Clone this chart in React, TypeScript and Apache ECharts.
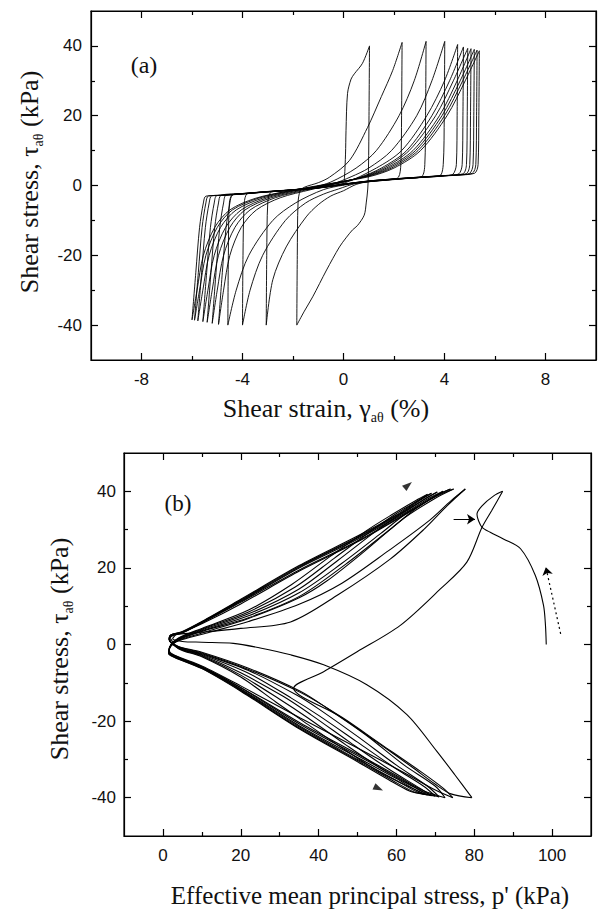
import React, { useEffect, useRef } from "react";
import * as echarts from "echarts";

// ---------- Panel (a): shear stress vs shear strain ----------
const aXMajor = [-8, -4, 0, 4, 8];
const aXMinor = [-6, -2, 2, 6];
const aYMajor = [-40, -20, 0, 20, 40];
const aYMinor = [-30, -10, 10, 30];

const aCycle1 = [[0,0],[0.04,2.4],[0.08,9],[0.1,15.8],[0.16,26.4],[0.3,30.5],[0.43,32],[0.75,35],[1.03,40],[1.01,20],[0.99,5],[0.96,-1],[0.9,-5],[0.82,-8.5],[0.55,-11.5],[0.36,-12.7],[0.1,-15],[-0.16,-17.6],[-0.67,-24.2],[-1.22,-31.9],[-1.55,-36],[-1.85,-40]];
const aCycle2 = [[-1.85,-40],[-1.83,-20],[-1.8,-5],[-1.72,-1.6],[-1.55,-0.5],[-1.0,0.8],[-0.55,2.4],[0.24,7.2],[0.95,16.6],[1.5,25.5],[1.95,33],[2.32,41],[2.3,20],[2.27,6],[2.18,2.4],[1.9,1.7],[1.0,1.1],[0.5,0.3],[0,-1.5],[-0.5,-3],[-1.0,-5.5],[-1.48,-9],[-2.27,-17.6],[-2.8,-27],[-3.06,-40]];
const aCycle3 = [[-3.06,-40],[-3.04,-20],[-3.0,-5],[-2.9,-2.1],[-2.6,-1.6],[-2.0,-1.2],[-1.2,-0.5],[-0.5,1.0],[0.5,5],[1.3,10],[2.2,20],[2.8,30],[3.27,41.3],[3.25,20],[3.22,6],[3.1,2.6],[2.5,2.0],[1.5,1.4],[0.5,0.6],[-0.2,-1],[-0.8,-2.5],[-1.5,-5],[-2.3,-10],[-3.2,-20],[-3.7,-30],[-4.0,-40]];
const aCycle4 = [[-4.0,-40],[-3.98,-20],[-3.93,-5],[-3.82,-2.4],[-3.4,-2.0],[-2.5,-1.5],[-1.5,-0.9],[-0.5,0.3],[0.3,2.5],[1.0,5],[1.9,10],[2.9,20],[3.5,30],[4.01,41.3],[3.99,20],[3.95,6],[3.82,2.8],[3.3,2.4],[2.0,1.8],[1.0,1.1],[0,0.1],[-0.8,-1.2],[-1.9,-5],[-2.8,-10],[-3.75,-20],[-4.25,-30],[-4.58,-40]];
const aCycle5 = [[-4.58,-40],[-4.56,-20],[-4.52,-5],[-4.4,-2.7],[-4.0,-2.3],[-3.0,-1.8],[-2.0,-1.3],[-1.0,-0.6],[0,0.6],[1.3,5],[2.3,10],[3.3,20],[4.0,30],[4.52,40.4],[4.5,20],[4.47,6],[4.33,3.2],[4.0,2.8],[3.0,2.35],[2.0,1.85],[1.0,1.25],[0,0.35],[-1.0,-0.65],[-2.0,-1.25],[-3.0,-1.75],[-4.0,-2.35],[-4.4,-2.7],[-4.5,-5],[-4.65,-12],[-4.8,-25],[-4.95,-39.8]];
const aCycle6 = [[-4.95,-39.8],[-4.75,-30],[-4.5,-20],[-4.05,-12],[-3.45,-7],[-2.5,-3.5],[-1.3,-1.2],[-0.3,0.5],[0.6,2.2],[1.5,5],[2.5,10],[3.5,20],[4.2,30],[4.75,39.7],[4.73,20],[4.7,6],[4.56,3.3],[4.0,2.75],[3.0,2.3],[2.0,1.8],[1.0,1.15],[0,0.25],[-1.0,-0.7],[-2.0,-1.3],[-3.0,-1.8],[-4.0,-2.4],[-4.65,-2.75],[-4.75,-5],[-4.9,-12],[-5.05,-25],[-5.2,-39.5]];
const aCycle7 = [[-5.2,-39.5],[-5.0,-30],[-4.75,-20],[-4.3,-12],[-3.7,-7],[-2.7,-3.5],[-1.5,-1.3],[-0.5,0.3],[0.7,2.4],[1.6,5],[2.6,10],[3.65,20],[4.35,30],[4.92,39.3],[4.9,20],[4.87,6],[4.73,3.35],[4.0,2.85],[3.0,2.4],[2.0,1.9],[1.0,1.3],[0,0.4],[-1.0,-0.6],[-2.0,-1.2],[-3.0,-1.7],[-4.0,-2.3],[-4.85,-2.8],[-4.95,-5],[-5.1,-12],[-5.25,-25],[-5.4,-39.2]];
const aCycle8 = [[-5.4,-39.2],[-5.2,-30],[-4.95,-20],[-4.5,-12],[-3.9,-7],[-2.9,-3.6],[-1.7,-1.4],[-0.6,0.2],[0.8,2.5],[1.7,5],[2.75,10],[3.8,20],[4.5,30],[5.05,39.2],[5.03,20],[5.0,6],[4.86,3.4],[4.0,2.8],[3.0,2.3],[2.0,1.75],[1.0,1.2],[0,0.3],[-1.0,-0.75],[-2.0,-1.35],[-3.0,-1.85],[-4.0,-2.45],[-4.5,-2.7],[-5.02,-2.9],[-5.12,-5],[-5.27,-12],[-5.42,-25],[-5.57,-39]];
const aCycle9 = [[-5.57,-39],[-5.37,-30],[-5.12,-20],[-4.67,-12],[-4.05,-7],[-3.05,-3.6],[-1.85,-1.4],[-0.7,0.2],[0.9,2.6],[1.8,5],[2.85,10],[3.9,20],[4.62,30],[5.18,39],[5.16,20],[5.13,6],[4.99,3.45],[4.5,3.0],[4.0,2.8],[3.0,2.35],[2.0,1.85],[1.0,1.25],[0,0.35],[-1.0,-0.7],[-2.0,-1.3],[-3.0,-1.8],[-4.0,-2.4],[-4.7,-2.75],[-5.22,-2.95],[-5.32,-5],[-5.47,-12],[-5.62,-25],[-5.77,-38.8]];
const aCycle10 = [[-5.77,-38.8],[-5.57,-30],[-5.32,-20],[-4.87,-12],[-4.25,-7],[-3.2,-3.6],[-2.0,-1.5],[-0.8,0.1],[1.0,2.7],[1.9,5],[2.95,10],[4.0,20],[4.72,30],[5.29,38.8],[5.27,20],[5.24,6],[5.1,3.5],[4.5,3.05],[4.0,2.85],[3.0,2.4],[2.0,1.9],[1.0,1.3],[0,0.4],[-1.0,-0.65],[-2.0,-1.25],[-3.0,-1.75],[-4.0,-2.35],[-4.8,-2.8],[-5.35,-3.0],[-5.45,-5],[-5.6,-12],[-5.75,-25],[-5.9,-38.6]];
const aCycle11 = [[-5.9,-38.6],[-5.7,-30],[-5.45,-20],[-5.0,-12],[-4.4,-7],[-3.35,-3.6],[-2.1,-1.5],[-0.9,0.1],[1.0,2.5],[2.0,5],[3.05,10],[4.1,20],[4.82,30],[5.38,38.6],[5.36,20],[5.33,6],[5.19,3.5],[4.5,3.0],[4.0,2.8],[3.0,2.3],[2.0,1.8],[1.0,1.2],[0,0.3],[-1.0,-0.7],[-2.0,-1.3],[-3.0,-1.8],[-4.0,-2.4],[-4.9,-2.85],[-5.45,-3.05],[-5.55,-5],[-5.7,-12],[-5.85,-25],[-6.0,-38.5]];
const aTail = [[-6.0,-38.5],[-5.8,-30],[-5.55,-20],[-5.1,-12],[-4.5,-7],[-3.5,-3.7],[-2.2,-1.6],[-1.0,-0.2],[0,0.8]];

// ---------- Panel (b): stress path ----------
const bXMajor = [0, 20, 40, 60, 80, 100];
const bXMinor = [10, 30, 50, 70, 90];
const bYMajor = [-40, -20, 0, 20, 40];
const bYMinor = [-30, -10, 10, 30];

const bInitial = [[98.5,0],[98.3,5],[97.8,10.2],[95.7,18],[91.9,25],[87.6,27.5],[84.1,29.3],[82,30.6],[81.1,32.3],[80.7,34],[82,36.2],[85,38.8],[87.3,40],[84.5,35],[82,30.6],[78.1,21.5],[71.3,14.5],[61,5],[49.9,-1.9],[41.3,-7.1],[33.6,-11.4],[45,-18.5],[55,-25.5],[64,-32],[70,-36.5],[74,-39],[79.4,-40]];
const bCycle1 = [[79.4,-40],[75,-34],[70.4,-27.9],[62.7,-18.3],[52.4,-10.5],[41.3,-5.3],[32.8,-2.7],[25,-0.9],[18.1,0.3],[10,0.6],[5,0.8],[2.5,1.5],[3.5,2.6],[8,3],[20,4.2],[32.8,5.9],[45,13],[58.4,22.3],[67,30],[73,36.2],[77.7,40.6],[74,37.5],[68,32],[58,24.5],[46,16],[35,10.5],[22,6],[12,3.2],[5,1.3],[2.2,0],[1.6,-1.5],[3,-2.8],[10,-5.6],[20,-10.8],[35.3,-19.2],[50,-27],[62,-33.5],[70,-38],[74.5,-40]];
const bCycle2 = [[74.5,-40],[72,-37.5],[66,-33],[56,-26],[46,-19],[35.3,-12.5],[22,-6.5],[10,-2.2],[4,-0.6],[1.8,1],[2.2,2.2],[5,3.2],[10,5.4],[20,10.6],[35.3,19.3],[50,26.8],[64,35],[70,38.6],[74.7,40.6],[70,38.2],[62,33],[52,24.5],[42,16.5],[35,12.2],[22,6.8],[10,3],[4,1.1],[2,-0.4],[1.6,-1.8],[3,-2.9],[10,-5.9],[20,-11.2],[35.3,-20.5],[50,-28.6],[60,-34.2],[67,-38.2],[72.5,-40]];
const bCycle3 = [[72.5,-40],[70,-37],[62,-31.5],[52,-23.5],[42,-16.5],[35.3,-12.2],[22,-6.2],[9.6,-1.9],[4,-0.5],[1.7,1.2],[2,2.1],[5,3],[10,5.6],[20,11],[35.3,19.6],[50,27],[64.4,35.4],[69.6,38.6],[73.9,40.6],[70,38.8],[65,35.5],[58.4,30.1],[47,21],[35.3,12.7],[22,7],[9.6,3.3],[4,1.2],[2,-0.5],[1.5,-2],[3,-3],[10,-5.8],[20,-11.3],[35.3,-20.9],[50,-29],[60,-34.5],[67,-38.5],[71,-39.8]];
const bCycle4 = [[71,-39.8],[68,-37],[60,-31.5],[50,-24],[40,-16.8],[34,-13],[22,-6.8],[10,-2.4],[4,-0.7],[1.6,1.3],[1.9,2.3],[5,3.1],[10,5.7],[20,11.2],[35,20],[50,27.5],[63,34.8],[68,38],[72,40],[68,37.5],[62,33.8],[56,29],[46,21.2],[35,13.5],[22,7.5],[10,3.6],[4,1.4],[2,-0.3],[1.5,-2.1],[3,-3.1],[10,-6],[20,-11.6],[35,-21.2],[50,-29.5],[60,-35],[66,-38.5],[70,-39.6]];
const bCycle5 = [[70,-39.6],[67,-37],[60,-32.5],[50,-25.5],[40,-18.5],[33,-14],[22,-7.5],[10,-2.6],[4,-0.8],[1.6,1.4],[2,2.4],[5,3.2],[10,5.8],[20,11.4],[35,20.2],[50,27.8],[62,34.5],[67,37.8],[70.5,39.8],[67,37.8],[61,34],[55,29.8],[45,22],[35,14.5],[22,8],[10,3.8],[4,1.5],[2,-0.2],[1.5,-2.2],[3,-3.2],[10,-6.1],[20,-11.8],[35,-21.5],[50,-30],[60,-35.5],[65.5,-38.6],[69,-39.5]];
const bCycle6 = [[69,-39.5],[66,-37.5],[58,-32.5],[48,-25.5],[38,-18.3],[31,-13.6],[20,-7.4],[10,-2.8],[4,-0.9],[1.6,1.5],[2,2.5],[5,3.3],[10,5.9],[20,11.6],[35,20.4],[50,28],[61,34.2],[66,37.6],[69,39.5],[66,37.8],[60,34.2],[54,30],[44,22.5],[34,15],[22,8.5],[10,4],[4,1.6],[2,-0.2],[1.5,-2.3],[3,-3.3],[10,-6.2],[20,-12],[35,-21.8],[50,-30.3],[59,-35.5],[64.5,-38.5],[68,-39.3]];
const bCycle7 = [[68,-39.3],[65,-37.5],[57,-33],[47,-26.2],[37,-19],[30,-14.3],[20,-8],[10,-3],[4,-1],[1.6,1.5],[2,2.5],[5,3.4],[10,6],[20,11.8],[35,20.6],[50,28.3],[60,33.8],[65,37.2],[68,39.2],[65,37.6],[59,34],[53,30.2],[43,23],[33,15.6],[22,9],[10,4.2],[4,1.7],[2,-0.1],[1.5,-2.4],[3,-3.4],[10,-6.3],[20,-12.2],[35,-22],[50,-30.6],[58,-35.3],[63.5,-38.3],[67,-39]];
const bTail = [[67,-39],[64,-37.5],[56,-33.5],[46,-27],[36,-20],[29,-15],[20,-8.5],[10,-3.2],[4,-1.1],[2,1.5]];

// annotations of panel (b)
const bArrowHeads = [[63, 41.6, -50], [55.4, -37.6, -115]];
const bHorizArrow = [[74.7, 32.7], [80.2, 32.7]];
const bDashArrow = [[102.2, 2.8], [98.4, 20.2]];

function splitAtTips(pts: number[][]): number[][][] {
  const out: number[][][] = [];
  let cur: number[][] = [pts[0]];
  for (let i = 1; i < pts.length; i++) {
    cur.push(pts[i]);
    const prev = pts[i - 1];
    const next = pts[i + 1];
    if (next && Math.abs(pts[i][1]) > 30 && (pts[i][1] - prev[1]) * (next[1] - pts[i][1]) < 0) {
      out.push(cur);
      cur = [pts[i]];
    }
  }
  if (cur.length > 1) out.push(cur);
  return out;
}

const TICK_FONT = "Liberation Sans";
const SERIF = "Liberation Serif";

function makeAxes(dim: "x" | "y", grid: number, min: number, max: number, major: number[], minor: number[], labelMargin: number) {
  const pos = dim === "x" ? ["bottom", "top"] : ["left", "right"];
  const axes: any[] = [];
  pos.forEach((p, k) => {
    [true, false].forEach((isMajor) => {
      axes.push({
        type: "value",
        gridIndex: grid,
        position: p,
        min,
        max,
        axisLine: { show: isMajor, onZero: false, lineStyle: { color: "#000", width: 1.2 } },
        axisTick: {
          show: true,
          inside: true,
          length: isMajor ? 7 : 4,
          customValues: isMajor ? major : minor,
          lineStyle: { color: "#000", width: 1.2 },
        },
        axisLabel: {
          show: isMajor && k === 0,
          customValues: major,
          margin: labelMargin,
          fontFamily: TICK_FONT,
          fontSize: 17,
          color: "#111",
        },
        splitLine: { show: false },
        minorTick: { show: false },
      });
    });
  });
  return axes;
}

const richBase = (size: number) => ({
  m: { fontFamily: SERIF, fontSize: size, lineHeight: 32, fill: "#111" },
  s: { fontFamily: SERIF, fontSize: 14, lineHeight: 14, verticalAlign: "bottom", fill: "#111" },
});

export default function App() {
  const ref = useRef<HTMLDivElement>(null);
  useEffect(() => {
    document.body.style.margin = "0";
    if (!ref.current) return;
    const chart = echarts.init(ref.current, null, { renderer: "svg" });

    const aSeries = [aCycle1, aCycle2, aCycle3, aCycle4, aCycle5, aCycle6, aCycle7, aCycle8, aCycle9, aCycle10, aCycle11, aTail]
      .flatMap(splitAtTips)
      .map((seg) => ({
        type: "line",
        xAxisIndex: 0,
        yAxisIndex: 0,
        data: seg,
        smooth: 0.3,
        symbol: "none",
        silent: true,
        lineStyle: { color: "#000", width: 0.9 },
      }));

    const bSeries = [bInitial, bCycle1, bCycle2, bCycle3, bCycle4, bCycle5, bCycle6, bCycle7, bTail]
      .flatMap(splitAtTips)
      .map((seg) => ({
        type: "line",
        xAxisIndex: 4,
        yAxisIndex: 4,
        data: seg,
        smooth: 0.3,
        symbol: "none",
        silent: true,
        lineStyle: { color: "#000", width: 1.1 },
      }));

    const annot = {
      type: "scatter",
      xAxisIndex: 4,
      yAxisIndex: 4,
      silent: true,
      symbol: "triangle",
      symbolSize: [7, 10],
      itemStyle: { color: "#000" },
      data: bArrowHeads.map((d) => ({ value: [d[0], d[1]], symbolRotate: d[2] })),
      markLine: {
        silent: true,
        symbol: ["none", "arrow"],
        symbolSize: 8,
        label: { show: false },
        emphasis: { disabled: true },
        data: [
          [
            { coord: bHorizArrow[0], lineStyle: { color: "#000", width: 1, type: "solid" } },
            { coord: bHorizArrow[1] },
          ],
          [
            { coord: bDashArrow[0], lineStyle: { color: "#000", width: 1.2, type: [2, 3] } },
            { coord: bDashArrow[1] },
          ],
        ],
      },
    };

    chart.setOption({
      animation: false,
      backgroundColor: "#fff",
      grid: [
        { left: 91, top: 11, width: 505, height: 349, show: true, borderColor: "#000", borderWidth: 1.2, backgroundColor: "transparent" },
        { left: 124, top: 453, width: 467, height: 383, show: true, borderColor: "#000", borderWidth: 1.2, backgroundColor: "transparent" },
      ],
      xAxis: [
        ...makeAxes("x", 0, -10, 10, aXMajor, aXMinor, 11),
        ...makeAxes("x", 1, -10, 110, bXMajor, bXMinor, 11),
      ],
      yAxis: [
        ...makeAxes("y", 0, -50, 50, aYMajor, aYMinor, 9),
        ...makeAxes("y", 1, -50, 50, bYMajor, bYMinor, 8),
      ],
      series: [...aSeries, ...bSeries, annot],
      graphic: [
        {
          type: "text",
          x: 29,
          y: 182,
          rotation: Math.PI / 2,
          style: { text: "{m|Shear stress, τ}{s|aθ}{m| (kPa)}", rich: richBase(26), align: "center", verticalAlign: "middle" },
        },
        {
          type: "text",
          x: 326,
          y: 408,
          style: { text: "{m|Shear strain, γ}{s|aθ}{m| (%)}", rich: richBase(26), align: "center", verticalAlign: "middle" },
        },
        {
          type: "text",
          x: 144,
          y: 65,
          style: { text: "(a)", font: `24px "${SERIF}"`, fill: "#111", align: "center", verticalAlign: "middle" },
        },
        {
          type: "text",
          x: 59,
          y: 649,
          rotation: Math.PI / 2,
          style: { text: "{m|Shear stress, τ}{s|aθ}{m| (kPa)}", rich: richBase(26), align: "center", verticalAlign: "middle" },
        },
        {
          type: "text",
          x: 370,
          y: 895,
          style: { text: "Effective mean principal stress, p' (kPa)", font: `25px "${SERIF}"`, fill: "#111", align: "center", verticalAlign: "middle" },
        },
        {
          type: "text",
          x: 178,
          y: 503,
          style: { text: "(b)", font: `23px "${SERIF}"`, fill: "#111", align: "center", verticalAlign: "middle" },
        },
      ],
    });
    return () => chart.dispose();
  }, []);
  return <div ref={ref} style={{ width: 599, height: 909 }} />;
}
